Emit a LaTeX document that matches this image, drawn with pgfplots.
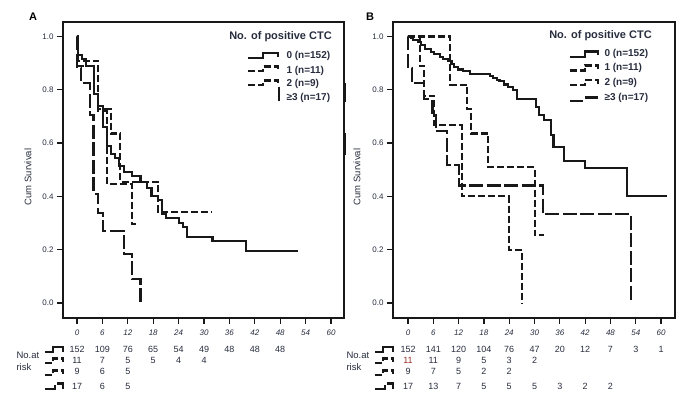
\documentclass[border=0pt]{standalone}
\usepackage{pgfplots}
\pgfplotsset{compat=1.18}
\usepackage{fontspec}
\setmainfont{Liberation Sans}
\definecolor{txt}{RGB}{40,45,62}
\definecolor{ln}{RGB}{24,24,24}
\definecolor{redtxt}{RGB}{150,50,40}
\tikzset{
  kmsolid/.style={ln, line width=2.1pt},
  kmmed/.style={ln, line width=2.1pt, dash pattern=on 7pt off 3pt},
  kmlong/.style={ln, line width=2.1pt, dash pattern=on 14pt off 3.5pt},
}
\pgfplotsset{
  km/.style={
    scale only axis, width=281pt, height=296pt,
    ymin=-0.0563, ymax=1.0544,
    xtick={0,6,12,18,24,30,36,42,48,54,60},
    ytick={0,0.2,0.4,0.6,0.8,1},
    xtick pos=bottom, ytick pos=left,
    tick align=outside, major tick length=6pt,
    axis line style={ln, line width=1.6pt},
    every tick/.style={ln, line width=1.2pt},
    /pgf/number format/assume math mode=true,
    yticklabel style={font=\fontsize{8}{9.6}\selectfont, text=txt,
      /pgf/number format/.cd, fixed, fixed zerofill, precision=1},
    xticklabel style={font=\fontsize{8}{9.6}\selectfont\itshape, text=txt, yshift=-2pt},
    clip=false,
  },
  riskrow/.style={draw=none, mark=none, nodes near coords, point meta=explicit symbolic,
    every node near coord/.style={anchor=center, inner sep=0pt, font=\fontsize{9}{10.8}\selectfont, text=txt}},
}
\begin{document}
\begin{tikzpicture}
\path[use as bounding box] (0pt,0pt) rectangle (693pt,-398pt);
% ---------------- Panel A ----------------
\begin{axis}[km, at={(63pt,-318pt)}, anchor=south west, xmin=-3.31, xmax=63.07]
\addplot[kmsolid, const plot] coordinates {
(0,1)(0.3,0.93)(1.2,0.915)(2.1,0.89)(4.0,0.785)(4.9,0.74)(6.2,0.66)(7.0,0.59)(8.0,0.56)(9.0,0.545)(10.0,0.515)(11.1,0.49)(13.0,0.478)(15.0,0.455)(16.5,0.43)(17.6,0.40)(19.2,0.386)(20.0,0.334)(21.0,0.32)(24.0,0.30)(25.0,0.285)(26.0,0.248)(32.0,0.233)(40.0,0.195)(52.2,0.195)};
\addplot[kmmed, const plot] coordinates {
(0,1)(0.3,0.909)(5,0.727)(8,0.636)(10.2,0.455)(19.2,0.341)(32,0.341)};
\addplot[kmmed, const plot] coordinates {
(0,1)(0.3,0.889)(5,0.72)(7,0.447)(12.9,0.298)(14,0.298)};
\addplot[kmlong, const plot] coordinates {
(0,1)(0.05,0.882)(1,0.824)(3,0.706)(3.9,0.41)(5,0.338)(6.2,0.27)(11,0.184)(13,0.09)(15,0)};
% numbers at risk
\addplot[riskrow] table[x=t, y expr={-0.1726}, meta=n] {
t n
0 152
6 109
12 76
18 65
24 54
30 49
36 48
42 48
48 48
};
\addplot[riskrow] table[x=t, y expr={-0.2139}, meta=n] {
t n
0 11
6 7
12 5
18 5
24 4
30 4
};
\addplot[riskrow] table[x=t, y expr={-0.2578}, meta=n] {
t n
0 9
6 6
12 5
};
\addplot[riskrow] table[x=t, y expr={-0.3114}, meta=n] {
t n
0 17
6 6
12 5
};
\end{axis}
% ---------------- Panel B ----------------
\begin{axis}[km, at={(393pt,-318pt)}, anchor=south west, width=282pt, xmin=-3.56, xmax=63.3]
\addplot[kmsolid, const plot] coordinates {
(0,1)(0.8,0.993)(1.2,0.986)(2.4,0.979)(3.0,0.967)(4.0,0.954)(5.5,0.941)(6.1,0.935)(7.5,0.923)(8.3,0.917)(9.5,0.907)(10.3,0.898)(11,0.886)(11.9,0.876)(13,0.869)(14.6,0.86)(19.4,0.852)(20.2,0.844)(21.2,0.838)(21.7,0.832)(22.7,0.82)(23.7,0.81)(24.9,0.798)(25.8,0.767)(30.3,0.737)(31,0.705)(32.2,0.688)(34,0.63)(34.5,0.586)(36.9,0.533)(42,0.505)(52,0.403)(61.3,0.403)};
\addplot[kmmed, const plot] coordinates {
(0,1)(10,0.818)(14,0.727)(15,0.636)(19,0.509)(30,0.255)(32.2,0.255)};
\addplot[kmmed, const plot] coordinates {
(0,1)(2.8,0.889)(3.8,0.778)(6.2,0.667)(12.8,0.40)(23.9,0.2)(27,0)};
\addplot[kmlong, const plot] coordinates {
(0,1)(0.05,0.882)(0.9,0.824)(3.7,0.765)(5.8,0.706)(6.6,0.647)(9.2,0.517)(12,0.441)(32.1,0.333)(52.9,0)};
\addplot[riskrow] table[x=t, y expr={-0.1726}, meta=n] {
t n
0 152
6 141
12 120
18 104
24 76
30 47
36 20
42 12
48 7
54 3
60 1
};
\addplot[riskrow, every node near coord/.append style={text=redtxt}] table[x=t, y expr={-0.2139}, meta=n] {
t n
0 11
};
\addplot[riskrow] table[x=t, y expr={-0.2139}, meta=n] {
t n
6 11
12 9
18 5
24 3
30 2
};
\addplot[riskrow] table[x=t, y expr={-0.2578}, meta=n] {
t n
0 9
6 7
12 5
18 2
24 2
};
\addplot[riskrow] table[x=t, y expr={-0.3114}, meta=n] {
t n
0 17
6 13
12 7
18 5
24 5
30 5
36 3
42 2
48 2
};
\end{axis}
% ---------------- decorations ----------------
\begin{scope}[x=1pt,y=-1pt]
\node[font=\bfseries\fontsize{11}{13}\selectfont] at (33,17) {A};
\node[font=\bfseries\fontsize{11}{13}\selectfont] at (370,17) {B};
\node[rotate=90,font=\fontsize{9.5}{11}\selectfont,text=txt] at (28,177) {Cum Survival};
\node[rotate=90,font=\fontsize{9.5}{11}\selectfont,text=txt] at (357,177) {Cum Survival};
% legend A
\node[font=\bfseries\fontsize{11}{13}\selectfont,text=txt] at (280.5,37) {No. of positive CTC};
\node[anchor=west,font=\bfseries\fontsize{10}{12}\selectfont,text=txt] at (283,56) {0 (n=152)};
\node[anchor=west,font=\bfseries\fontsize{10}{12}\selectfont,text=txt] at (283,70.5) {1 (n=11)};
\node[anchor=west,font=\bfseries\fontsize{10}{12}\selectfont,text=txt] at (283,84) {2 (n=9)};
\node[anchor=west,font=\bfseries\fontsize{10}{12}\selectfont,text=txt] at (283,98) {≥3 (n=17)};
\draw[kmsolid] (248,58)--(263,58)--(263,53)--(278,53)--(278,57);
\draw[kmmed] (248,71)--(263,71)--(263,66.5)--(278,66.5)--(278,71);
\draw[kmmed] (248,85)--(263,85)--(263,80.5)--(278,80.5)--(278,85);
\draw[kmlong] (279,87)--(279,102);
% legend B
\node[font=\bfseries\fontsize{11}{13}\selectfont,text=txt] at (600.5,36) {No. of positive CTC};
\node[anchor=west,font=\bfseries\fontsize{10}{12}\selectfont,text=txt] at (601,54) {0 (n=152)};
\node[anchor=west,font=\bfseries\fontsize{10}{12}\selectfont,text=txt] at (601,68) {1 (n=11)};
\node[anchor=west,font=\bfseries\fontsize{10}{12}\selectfont,text=txt] at (601,83) {2 (n=9)};
\node[anchor=west,font=\bfseries\fontsize{10}{12}\selectfont,text=txt] at (601,98) {≥3 (n=17)};
\draw[kmsolid] (570,57)--(585,57)--(585,51.5)--(598,51.5)--(598,55.5);
\draw[kmmed] (570,70.5)--(585,70.5)--(585,65.5)--(598,65.5)--(598,69.5);
\draw[kmmed] (570,85)--(585,85)--(585,80)--(598,80)--(598,84);
\draw[kmsolid] (570,101)--(583,101) (585,97.5)--(598,97.5);
% odd bars at right edge of panel A
\draw[ln, line width=1.8pt] (345.5,83)--(345.5,102) (345.5,133)--(345.5,155);
% number at risk labels and symbols
\foreach \dx in {0,330}{
  \node[anchor=west,font=\fontsize{9.5}{11}\selectfont,text=txt] at (13+\dx,355) {No.at};
  \node[anchor=west,font=\fontsize{9.5}{11}\selectfont,text=txt] at (13+\dx,367.5) {risk};
  \draw[kmsolid] (45+\dx,352)--(53+\dx,352)--(53+\dx,347)--(63+\dx,347)--(63+\dx,352);
  \draw[kmmed] (45+\dx,363)--(53+\dx,363)--(53+\dx,358.5)--(63+\dx,358.5)--(63+\dx,362);
  \draw[kmmed] (45+\dx,375)--(53+\dx,375)--(53+\dx,370.5)--(63+\dx,370.5)--(63+\dx,374);
  \draw[kmlong] (45+\dx,389)--(55+\dx,389)--(55+\dx,383.5)--(63+\dx,383.5)--(63+\dx,389);
}
\end{scope}
\end{tikzpicture}
\end{document}
